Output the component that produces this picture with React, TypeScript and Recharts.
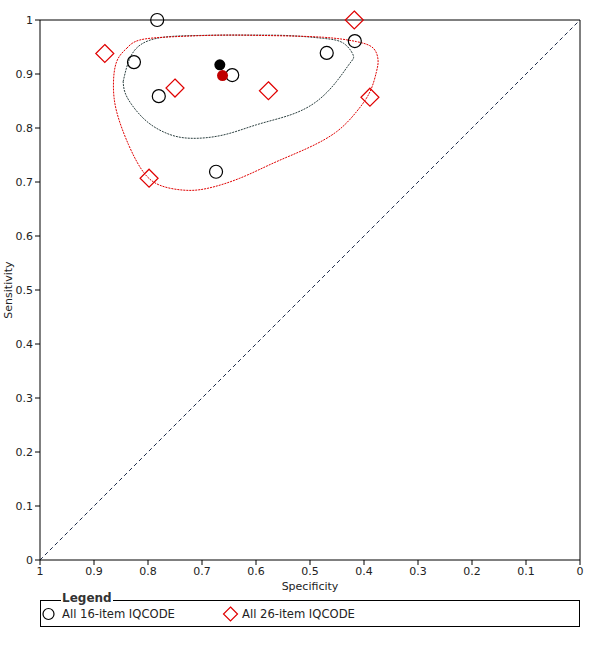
import React from 'react';
import {
  ScatterChart,
  Scatter,
  XAxis,
  YAxis,
  ReferenceLine,
} from 'recharts';

// study estimates (specificity, sensitivity)
const iq16Spec = [0.783, 0.826, 0.78, 0.674, 0.644, 0.469, 0.417];
const iq16Sens = [1.0, 0.922, 0.859, 0.719, 0.898, 0.939, 0.961];

const iq26Spec = [0.88, 0.75, 0.577, 0.418, 0.389, 0.798];
const iq26Sens = [0.938, 0.874, 0.869, 1.0, 0.857, 0.707];

// summary points
const summary16 = [{ spec: 0.667, sens: 0.917 }];
const summary26 = [{ spec: 0.662, sens: 0.897 }];

// confidence regions, traced around
const region16Spec = [
  0.846, 0.827, 0.784, 0.722, 0.661, 0.599, 0.537, 0.475, 0.438, 0.42, 0.426,
  0.451, 0.488, 0.537, 0.599, 0.661, 0.722, 0.765, 0.802, 0.83, 0.843, 0.846,
];
const region16Sens = [
  0.886, 0.941, 0.966, 0.971, 0.972, 0.972, 0.971, 0.966, 0.957, 0.935, 0.92,
  0.886, 0.849, 0.824, 0.806, 0.787, 0.781, 0.79, 0.812, 0.843, 0.867, 0.886,
];

const region26Spec = [
  0.839, 0.815, 0.753, 0.661, 0.568, 0.475, 0.414, 0.383, 0.374, 0.377, 0.389,
  0.414, 0.451, 0.506, 0.568, 0.63, 0.691, 0.735, 0.778, 0.809, 0.836, 0.858,
  0.864, 0.858, 0.839,
];
const region26Sens = [
  0.948, 0.963, 0.969, 0.972, 0.971, 0.968, 0.96, 0.948, 0.926, 0.904, 0.867,
  0.83, 0.793, 0.762, 0.735, 0.707, 0.688, 0.685, 0.694, 0.719, 0.769, 0.83,
  0.88, 0.923, 0.948,
];

const ticks = [0, 0.1, 0.2, 0.3, 0.4, 0.5, 0.6, 0.7, 0.8, 0.9, 1];

const zip = (xs: number[], ys: number[]) => xs.map((spec, i) => ({ spec, sens: ys[i] }));

const RED = '#e00000';
const DARK = '#2b3f3f';
const FONT = '"DejaVu Sans", sans-serif';
const TEXT = '#222';

const fmt = (v: number) => (v === 0 || v === 1 ? String(v) : v.toFixed(1));

const OpenCircle = (props: any) => (
  <circle cx={props.cx} cy={props.cy} r={6.5} fill="none" stroke="#000" strokeWidth={1.2} />
);

const OpenDiamond = (props: any) => {
  const { cx, cy } = props;
  const d = 9;
  return (
    <path
      d={`M${cx},${cy - d}L${cx + d},${cy}L${cx},${cy + d}L${cx - d},${cy}Z`}
      fill="none"
      stroke={RED}
      strokeWidth={1.2}
    />
  );
};

const Dot = (color: string) => (props: any) => (
  <circle cx={props.cx} cy={props.cy} r={5.5} fill={color} />
);

const Nothing = () => <g />;

const SensLabel = (props: any) => {
  const { viewBox } = props;
  const cy = viewBox.y + viewBox.height / 2;
  return (
    <text
      x={12}
      y={cy}
      transform={`rotate(-90, 12, ${cy})`}
      textAnchor="middle"
      fontSize={11}
      fill={TEXT}
      fontFamily={FONT}
    >
      Sensitivity
    </text>
  );
};

export default function App() {
  return (
    <div style={{ position: 'absolute', left: 0, top: 0, width: 600, height: 648, background: '#fff', fontFamily: FONT }}>
      <ScatterChart width={600} height={600} margin={{ top: 20, right: 20, bottom: 10, left: 0 }}>
        <XAxis
          type="number"
          dataKey="spec"
          domain={[0, 1]}
          reversed
          ticks={ticks}
          tickFormatter={fmt}
          height={30}
          tickSize={5}
          stroke="#000"
          tick={{ fontSize: 11, fill: TEXT, fontFamily: FONT }}
          label={{ value: 'Specificity', position: 'insideBottom', offset: 0, fontSize: 11, fill: TEXT, fontFamily: FONT }}
        />
        <YAxis
          type="number"
          dataKey="sens"
          domain={[0, 1]}
          ticks={ticks}
          tickFormatter={fmt}
          width={40}
          tickSize={5}
          stroke="#000"
          tick={{ fontSize: 11, fill: TEXT, fontFamily: FONT }}
          label={<SensLabel />}
        />
        <ReferenceLine y={1} stroke="#000" />
        <ReferenceLine x={0} stroke="#000" />
        <ReferenceLine
          segment={[{ x: 1, y: 0 }, { x: 0, y: 1 }]}
          stroke="#1c2a4a"
          strokeDasharray="4 3"
        />
        <Scatter
          data={zip(region16Spec, region16Sens)}
          shape={Nothing}
          line={{ stroke: DARK, strokeDasharray: '2 1', strokeWidth: 1 }}
          lineJointType="natural"
          isAnimationActive={false}
        />
        <Scatter
          data={zip(region26Spec, region26Sens)}
          shape={Nothing}
          line={{ stroke: RED, strokeDasharray: '2 1', strokeWidth: 1 }}
          lineJointType="natural"
          isAnimationActive={false}
        />
        <Scatter data={zip(iq16Spec, iq16Sens)} shape={OpenCircle} isAnimationActive={false} />
        <Scatter data={zip(iq26Spec, iq26Sens)} shape={OpenDiamond} isAnimationActive={false} />
        <Scatter data={summary16} shape={Dot('#000')} isAnimationActive={false} />
        <Scatter data={summary26} shape={Dot('#c00000')} isAnimationActive={false} />
      </ScatterChart>
      <div
        style={{
          position: 'absolute',
          left: 40,
          top: 600,
          width: 540,
          height: 27,
          border: '1px solid #000',
          boxSizing: 'border-box',
        }}
      />
      <span
        style={{
          position: 'absolute',
          left: 61,
          top: 591,
          padding: '0 1px',
          background: '#fff',
          fontWeight: 'bold',
          fontSize: 12,
          color: '#333',
          lineHeight: '14px',
        }}
      >
        Legend
      </span>
      <svg style={{ position: 'absolute', left: 40, top: 604 }} width={500} height={20}>
        <circle cx={8.5} cy={10} r={5.5} fill="none" stroke="#000" strokeWidth={1.2} />
        <text x={22} y={14} fontSize={11.6} fill={TEXT} fontFamily={FONT}>All 16-item IQCODE</text>
        <path d="M190.5,3L197.5,10L190.5,17L183.5,10Z" fill="none" stroke={RED} strokeWidth={1.2} />
        <text x={202} y={14} fontSize={11.6} fill={TEXT} fontFamily={FONT}>All 26-item IQCODE</text>
      </svg>
    </div>
  );
}
